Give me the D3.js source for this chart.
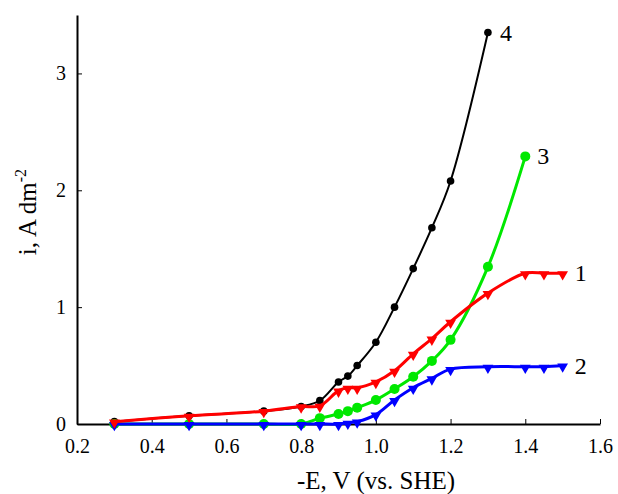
<!DOCTYPE html>
<html lang="en">
<head>
  <meta charset="UTF-8" />
  <title>Polarization curves</title>
  <script src="https://cdn.jsdelivr.net/npm/d3@7/dist/d3.min.js"></script>
  <style>
    body { margin: 0; background: #fff; }
    text { font-family: 'Liberation Serif', 'DejaVu Serif', serif; fill: #000; }
  </style>
</head>
<body>
  <svg width="618" height="494"></svg>

  <script>
    // data: -E (V vs. SHE) and i (A dm^-2)
    const xBlack = [0.3, 0.5, 0.7, 0.8, 0.85, 0.9, 0.925, 0.95, 1.0, 1.05, 1.1, 1.15, 1.2, 1.3];
    const yBlack = [0.02, 0.07, 0.11, 0.15, 0.20, 0.36, 0.41, 0.50, 0.70, 1.00, 1.33, 1.68, 2.08, 3.35];

    const xGreen = [0.3, 0.5, 0.7, 0.8, 0.85, 0.9, 0.925, 0.95, 1.0, 1.05, 1.1, 1.15, 1.2, 1.3, 1.4];
    const yGreen = [0, 0, 0, 0, 0.05, 0.085, 0.11, 0.14, 0.205, 0.30, 0.405, 0.54, 0.72, 1.345, 2.29];

    const xBlue = [0.3, 0.5, 0.7, 0.8, 0.85, 0.9, 0.925, 0.95, 1.0, 1.05, 1.1, 1.15, 1.2, 1.3, 1.4, 1.45, 1.5];
    const yBlue = [0, 0, 0, 0, 0, 0, 0.01, 0.02, 0.08, 0.205, 0.31, 0.39, 0.47, 0.49, 0.49, 0.49, 0.50];

    const xRed = [0.3, 0.5, 0.7, 0.8, 0.85, 0.9, 0.925, 0.95, 1.0, 1.05, 1.1, 1.15, 1.2, 1.3, 1.4, 1.45, 1.5];
    const yRed = [0.02, 0.07, 0.11, 0.15, 0.155, 0.285, 0.31, 0.31, 0.36, 0.455, 0.60, 0.73, 0.875, 1.12, 1.29, 1.29, 1.29];

    const curveLabels = ['4', '3', '2', '1'];
    const xTicks = [0.2, 0.4, 0.6, 0.8, 1.0, 1.2, 1.4, 1.6];
    const yTicks = [0, 1, 2, 3];

    const series = [
      { name: curveLabels[0], xs: xBlack, ys: yBlack, color: '#000000', width: 2, marker: 'circle', size: 3.8 },
      { name: curveLabels[1], xs: xGreen, ys: yGreen, color: '#00e800', width: 3, marker: 'circle', size: 5 },
      { name: curveLabels[2], xs: xBlue, ys: yBlue, color: '#0000ff', width: 3, marker: 'tri', size: 50 },
      { name: curveLabels[3], xs: xRed, ys: yRed, color: '#ff0000', width: 3, marker: 'tri', size: 50 },
    ];

    const svg = d3.select('svg');
    const mLeft = 77, mRight = 600, mTop = 15, mBottom = 424;

    const x = d3.scaleLinear().domain([0.2, 1.6]).range([mLeft, mRight]);
    const y = d3.scaleLinear().domain([0, 3.5]).range([mBottom, mTop]);

    // axes
    const xAxis = d3.axisBottom(x).tickValues(xTicks).tickSizeInner(-5).tickSizeOuter(0)
      .tickFormat(d3.format('.1f'));
    const gx = svg.append('g').attr('transform', `translate(0,${mBottom})`).call(xAxis);
    gx.select('.domain').attr('stroke-width', 2);
    gx.selectAll('.tick line').attr('stroke-width', 1);
    gx.selectAll('.tick text').attr('dy', 0).attr('y', 29).style('font-size', '20px')
      .style('font-family', "'Liberation Serif', serif");

    const yAxis = d3.axisLeft(y).tickValues(yTicks).tickSizeInner(-5).tickSizeOuter(0)
      .tickFormat(d3.format('d'));
    const gy = svg.append('g').attr('transform', `translate(${mLeft},0)`).call(yAxis);
    gy.select('.domain').attr('stroke-width', 2);
    gy.selectAll('.tick line').attr('stroke-width', 1);
    gy.selectAll('.tick text').attr('x', -11).style('font-size', '20px')
      .style('font-family', "'Liberation Serif', serif");

    // axis titles
    svg.append('text')
      .attr('x', 376).attr('y', 489)
      .attr('text-anchor', 'middle')
      .style('font-size', '25px')
      .text('-E, V (vs. SHE)');

    const yTitle = svg.append('text')
      .attr('transform', 'translate(36,212) rotate(-90)')
      .attr('text-anchor', 'middle')
      .style('font-size', '25px');
    yTitle.append('tspan').text('i, A dm');
    yTitle.append('tspan').attr('dy', -10).style('font-size', '16px').text('-2');

    // lines and markers
    const line = d3.line()
      .x((d) => x(d[0]))
      .y((d) => y(d[1]))
      .curve(d3.curveCatmullRom.alpha(0.5));

    const tri = d3.symbol().type(d3.symbolTriangle);

    series.forEach((s) => {
      const pts = s.xs.map((v, i) => [v, s.ys[i]]);
      const g = svg.append('g');
      g.append('path')
        .datum(pts)
        .attr('d', line)
        .attr('fill', 'none')
        .attr('stroke', s.color)
        .attr('stroke-width', s.width);

      if (s.marker === 'circle') {
        g.selectAll('circle').data(pts).enter().append('circle')
          .attr('cx', (d) => x(d[0]))
          .attr('cy', (d) => y(d[1]))
          .attr('r', s.size)
          .attr('fill', s.color);
      } else {
        g.selectAll('path.m').data(pts).enter().append('path')
          .attr('class', 'm')
          .attr('d', tri.size(s.size))
          .attr('transform', (d) => `translate(${x(d[0])},${y(d[1]) + 1}) rotate(180)`)
          .attr('fill', s.color);
      }

      const last = pts[pts.length - 1];
      g.append('text')
        .attr('x', x(last[0]) + 12)
        .attr('y', y(last[1]) + 8)
        .style('font-size', '24px')
        .text(s.name);
    });
  </script>
</body>
</html>
